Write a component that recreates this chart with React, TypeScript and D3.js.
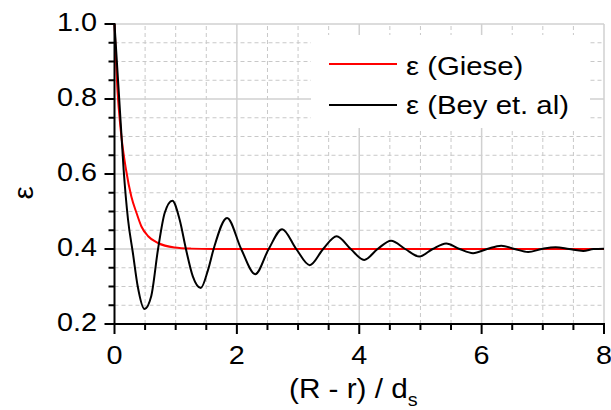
import React from "react";
import * as d3 from "d3";

const beyX = [0, 0.05, 0.10, 0.15, 0.22, 0.30, 0.38, 0.49, 0.60, 0.71, 0.82, 0.945, 1.065, 1.17, 1.28, 1.41, 1.53, 1.62, 1.84, 2.07, 2.30, 2.52, 2.74, 2.97, 3.19, 3.41, 3.63, 3.86, 4.08, 4.30, 4.52, 4.75, 4.98, 5.20, 5.42, 5.64, 5.86, 6.09, 6.32, 6.54, 6.76, 6.98, 7.21, 7.43, 7.66, 7.83, 8.0];
const beyY = [1.0, 0.87, 0.74, 0.61, 0.48, 0.39, 0.30, 0.24, 0.274, 0.398, 0.496, 0.529, 0.478, 0.398, 0.327, 0.296, 0.345, 0.40, 0.483, 0.40, 0.333, 0.40, 0.453, 0.40, 0.357, 0.40, 0.434, 0.40, 0.371, 0.40, 0.422, 0.40, 0.380, 0.40, 0.415, 0.40, 0.389, 0.40, 0.409, 0.40, 0.392, 0.40, 0.405, 0.40, 0.395, 0.40, 0.401];

const gieseX = [0, 0.05, 0.10, 0.19, 0.275, 0.36, 0.44, 0.55, 0.71, 0.98, 1.25, 1.6, 2, 3, 4, 5, 6, 7, 8];
const gieseY = [1.0, 0.82, 0.72, 0.61, 0.54, 0.496, 0.46, 0.434, 0.416, 0.404, 0.401, 0.4, 0.4, 0.4, 0.4, 0.4, 0.4, 0.4, 0.4];

const xTicks = [0, 2, 4, 6, 8];
const yTicks = [0.2, 0.4, 0.6, 0.8, 1.0];
const legendLabels = ["ε (Giese)", "ε (Bey et. al)"];

const FONT = "Arial, 'Liberation Sans', sans-serif";
const SX = 1.13;

export default function App() {
  const x = d3.scaleLinear().domain([0, 8]).range([114.5, 604]);
  const y = d3.scaleLinear().domain([0.2, 1.0]).range([324, 24]);

  const xMinor = d3.range(0, 8.001, 0.5);
  const yMinor = d3.range(0.2, 1.0001, 0.05).map((v) => Math.round(v * 100) / 100);
  const isMajorX = (v: number) => Math.abs(v / 2 - Math.round(v / 2)) < 1e-6;
  const isMajorY = (v: number) => Math.abs(v / 0.2 - Math.round(v / 0.2)) < 1e-6;

  const line = d3
    .line<[number, number]>()
    .x((d) => x(d[0]))
    .y((d) => y(d[1]))
    .curve(d3.curveMonotoneX);

  const bey = beyX.map((v, i) => [v, beyY[i]] as [number, number]);
  const giese = gieseX.map((v, i) => [v, gieseY[i]] as [number, number]);

  const [x0, x1] = x.range();
  const [y0, y1] = y.range();

  return (
    <svg
      width={611}
      height={410}
      style={{ position: "absolute", left: 0, top: 0, background: "#fff" }}
      fontFamily={FONT}
    >
      <rect x={0} y={0} width={611} height={410} fill="#fff" />
      {/* minor grid */}
      {xMinor.filter((v) => !isMajorX(v)).map((v) => (
        <line key={"gx" + v} x1={x(v)} x2={x(v)} y1={y0} y2={y1} stroke="#c8c8c8" strokeWidth={1} strokeDasharray="4,3" />
      ))}
      {yMinor.filter((v) => !isMajorY(v)).map((v) => (
        <line key={"gy" + v} x1={x0} x2={x1} y1={y(v)} y2={y(v)} stroke="#c8c8c8" strokeWidth={1} strokeDasharray="4,3" />
      ))}
      {/* major grid */}
      {xTicks.filter((v) => v > 0).map((v) => (
        <line key={"Gx" + v} x1={x(v)} x2={x(v)} y1={y0} y2={y1} stroke="#d0d0d0" strokeWidth={1.5} />
      ))}
      {yTicks.filter((v) => v > 0.2).map((v) => (
        <line key={"Gy" + v} x1={x0} x2={x1} y1={y(v)} y2={y(v)} stroke="#d0d0d0" strokeWidth={1.5} />
      ))}

      {/* legend background */}
      <rect x={311} y={35} width={279} height={93} fill="#fff" />

      {/* curves */}
      <path d={line(giese) || ""} fill="none" stroke="#ff0000" strokeWidth={2} />
      <path d={line(bey) || ""} fill="none" stroke="#000" strokeWidth={2} />

      {/* axes */}
      <line x1={x0} x2={x0} y1={y0 + 1} y2={y1 - 1} stroke="#000" strokeWidth={2} />
      <line x1={x0 - 1} x2={x1 + 1} y1={y0} y2={y0} stroke="#000" strokeWidth={2} />
      {xMinor.map((v) => (
        <line key={"tx" + v} x1={x(v)} x2={x(v)} y1={y0} y2={y0 + (isMajorX(v) ? 10 : 6)} stroke="#000" strokeWidth={2} />
      ))}
      {yMinor.map((v) => (
        <line key={"ty" + v} x1={x0 - (isMajorY(v) ? 10 : 6)} x2={x0} y1={y(v)} y2={y(v)} stroke="#000" strokeWidth={2} />
      ))}
      {xTicks.map((v) => (
        <text key={"lx" + v} transform={`translate(${x(v)},364) scale(${SX},1)`} textAnchor="middle" fontSize={25.5} fill="#000">
          {v}
        </text>
      ))}
      {yTicks.map((v) => (
        <text key={"ly" + v} transform={`translate(97,${y(v) + 7}) scale(${SX},1)`} textAnchor="end" fontSize={25.5} fill="#000">
          {v.toFixed(1)}
        </text>
      ))}

      {/* axis titles */}
      <text transform={`translate(289,398) scale(1.1,1)`} fontSize={27} fill="#000">
        (R - r) / d<tspan fontSize={18} dy={8}>s</tspan>
      </text>
      <text transform="translate(33,193) rotate(-90) scale(1.1,1)" textAnchor="middle" fontSize={27} fill="#000">
        ε
      </text>

      {/* legend */}
      <line x1={329} x2={397} y1={64} y2={64} stroke="#ff0000" strokeWidth={2} />
      <text transform={`translate(406,75) scale(1.15,1)`} fontSize={25.5} fill="#000">{legendLabels[0]}</text>
      <line x1={329} x2={397} y1={105} y2={105} stroke="#000" strokeWidth={2} />
      <text transform={`translate(406,114) scale(1.15,1)`} fontSize={25.5} fill="#000">{legendLabels[1]}</text>
    </svg>
  );
}
